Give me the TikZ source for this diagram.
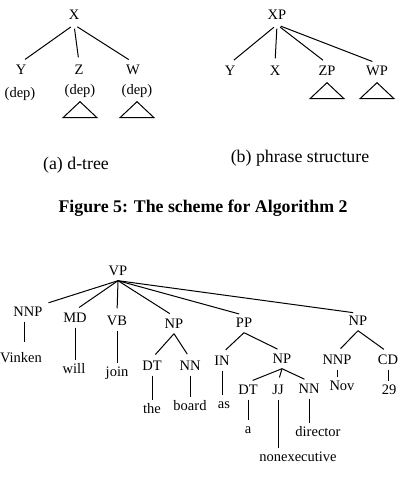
\documentclass[tikz,border=0pt]{standalone}
\usepackage{fontspec}
\setmainfont{Liberation Serif}
\usepackage{tikz}
\usetikzlibrary{calc}

% small triangle hanging under a node
\newcommand{\subtri}[1]{\draw [tri] ($(#1.south)+(0,2)$) -- ++(-17,16) -- ++(34,0) -- cycle;}

\begin{document}
\begin{tikzpicture}[
    x=1pt, y=-1pt,
    cat/.style={font=\fontsize{14.5}{17}\selectfont, inner xsep=1pt, inner ysep=2pt, text height=10pt, text depth=3pt},
    word/.style={cat},
    captext/.style={font=\fontsize{17.8}{21}\selectfont},
    link/.style={draw, line width=1pt, shorten >=5pt},
    leaf/.style={draw, line width=1pt, shorten >=1pt},
    tri/.style={draw, line width=1pt}
]
    \useasboundingbox (0,0) rectangle (404,478);

    % (a) d-tree
    \node [cat] (x) at (74, 16) {X};
    \node [cat] (y) at (21, 71) {Y};
    \node [cat] (z) at (79, 71) {Z};
    \node [cat] (w) at (133, 71) {W};
    \node [cat] (ydep) at (20, 94) {(dep)};
    \node [cat] (zdep) at (80, 91) {(dep)};
    \node [cat] (wdep) at (137, 91) {(dep)};
    \node [captext] (capa) at (76, 165) {(a) d-tree};

    \draw [link, shorten <=4pt] (x.south) -- (y.north);
    \draw [link, shorten <=4pt] (x.south) -- (z.north);
    \draw [link, shorten <=4pt] (x.south) -- (w.north);
    \subtri{zdep}
    \subtri{wdep}

    % (b) phrase structure
    \node [cat] (xp) at (277, 16) {XP};
    \node [cat] (py) at (230, 72) {Y};
    \node [cat] (px) at (275, 72) {X};
    \node [cat] (zp) at (327, 72) {ZP};
    \node [cat] (wp) at (377, 72) {WP};
    \node [captext] (capb) at (300, 158) {(b) phrase structure};

    \draw [link, shorten <=4pt] (xp.south) -- (py.north);
    \draw [link, shorten <=4pt] (xp.south) -- (px.north);
    \draw [link, shorten <=4pt] (xp.south) -- (zp.north);
    \draw [link, shorten <=4pt] (xp.south) -- (wp.north);
    \subtri{zp}
    \subtri{wp}

    \node [captext, font=\fontsize{17.8}{21}\selectfont\bfseries] (fig) at (203, 208) {Figure 5: The scheme for Algorithm 2};

    % example tree
    \node [cat] (vp) at (118, 272) {VP};
    \node [cat] (nnp) at (28, 313) {NNP};
    \node [cat] (md) at (75, 319) {MD};
    \node [cat] (vb) at (117, 322) {VB};
    \node [cat] (np) at (174, 325) {NP};
    \node [cat] (pp) at (244, 324) {PP};
    \node [cat] (npdate) at (358, 322) {NP};

    \node [cat] (dt) at (152, 367) {DT};
    \node [cat] (nn) at (190, 367) {NN};
    \node [cat] (in) at (222, 362) {IN};
    \node [cat] (npobj) at (282, 360) {NP};
    \node [cat] (dta) at (248, 391) {DT};
    \node [cat] (jj) at (278, 391) {JJ};
    \node [cat] (nnd) at (309, 390) {NN};
    \node [cat] (nnpnov) at (337, 361) {NNP};
    \node [cat] (cd) at (388, 361) {CD};

    \node [word] (vinken) at (21, 359) {Vinken};
    \node [word] (will) at (74, 370) {will};
    \node [word] (join) at (117, 373) {join};
    \node [word] (the) at (152, 410) {the};
    \node [word] (board) at (190, 407) {board};
    \node [word] (as) at (224, 405) {as};
    \node [word] (a) at (248, 430) {a};
    \node [word] (nonexec) at (298, 458) {nonexecutive};
    \node [word] (director) at (318, 433) {director};
    \node [word] (nov) at (342, 387) {Nov};
    \node [word] (num) at (389, 391) {29};

    \draw [link] (vp.south) -- (nnp.north east);
    \draw [link] (vp.south) -- (md.north);
    \draw [link] (vp.south) -- (vb.north);
    \draw [link] (vp.south) -- (np.north);
    \draw [link] (vp.south) -- (pp.north);
    \draw [link] (vp.south) -- (npdate.north);

    \draw [link] (np.south) -- (dt.north);
    \draw [link] (np.south) -- (nn.north);
    \draw [link] (pp.south) -- (in.north);
    \draw [link] (pp.south) -- (npobj.north);
    \draw [link] (npobj.south) -- (dta.north);
    \draw [link] (npobj.south) -- (jj.north);
    \draw [link] (npobj.south) -- (nnd.north);
    \draw [link] (npdate.south) -- (nnpnov.north);
    \draw [link] (npdate.south) -- (cd.north);

    \coordinate (nnpfoot) at ($(nnp.south)+(-4,0)$);
    \draw [leaf, shorten >=8pt] (nnpfoot) -- (nnpfoot |- vinken.north);
    \draw [leaf] (md.south) -- (md.south |- will.north);
    \draw [leaf] (vb.south) -- (vb.south |- join.north);
    \draw [leaf] (dt.south) -- (dt.south |- the.north);
    \draw [leaf] (nn.south) -- (nn.south |- board.north);
    \draw [leaf] (in.south) -- (in.south |- as.north);
    \draw [leaf] (dta.south) -- (dta.south |- a.north);
    \draw [leaf] (jj.south) -- (jj.south |- nonexec.north);
    \draw [leaf] (nnd.south) -- (nnd.south |- director.north);
    \draw [leaf] (nnpnov.south) -- (nnpnov.south |- nov.north);
    \draw [leaf] (cd.south) -- (cd.south |- num.north);

\end{tikzpicture}
\end{document}
